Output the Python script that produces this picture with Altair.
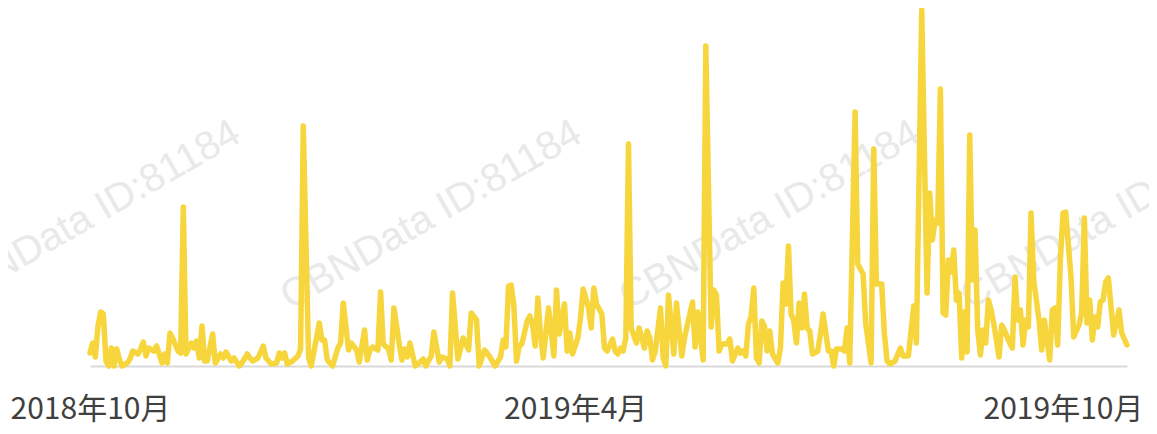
import altair as alt
import pandas as pd

# ---- data (daily series, offsets in days from start) ----
start = "2018-10-01"
end = "2019-10-25"

day_offsets = [
    0, 1, 2, 3, 4, 5, 6, 7, 8, 9, 10, 11, 12, 14, 15, 16, 18, 19, 20, 21, 22, 24, 25, 27, 28, 29, 30, 31, 33, 34,
    35, 36, 38, 39, 40, 41, 42, 43, 44, 46, 47, 49, 50, 51, 53, 54, 56, 57, 59, 60, 61, 63, 65, 66, 68, 70, 71, 72,
    73, 74, 76, 78, 79, 80, 82, 83, 86, 87, 88, 89, 91, 93, 94, 95, 97, 98, 100, 101, 103, 104, 105, 106, 108, 109,
    110, 112, 113, 114, 116, 117, 118, 119, 120, 122, 123, 125, 126, 128, 129, 131, 132, 134, 135, 136, 138, 140,
    142, 143, 145, 146, 148, 150, 152, 154, 155, 156, 157, 158, 159, 160, 161, 162, 164, 165, 166, 167, 168, 169,
    170, 172, 173, 174, 175, 176, 178, 179, 180, 181, 183, 184, 185, 187, 188, 189, 190, 192, 193, 194, 196, 197,
    198, 199, 200, 201, 202, 203, 205, 206, 208, 209, 210, 211, 212, 214, 215, 216, 217, 219, 220, 222, 223, 226,
    227, 228, 230, 231, 233, 234, 235, 236, 237, 239, 240, 241, 243, 244, 245, 246, 247, 248, 249, 250, 251, 252,
    253, 254, 255, 256, 258, 259, 260, 261, 262, 263, 264, 265, 266, 267, 268, 269, 270, 271, 273, 274, 275, 277,
    278, 279, 280, 282, 283, 284, 285, 287, 288, 290, 291, 293, 294, 295, 297, 298, 299, 300, 302, 304, 305, 307,
    309, 310, 312, 314, 315, 316, 317, 318, 319, 320, 321, 322, 323, 324, 325, 326, 327, 328, 329, 330, 331, 332,
    333, 334, 335, 336, 337, 338, 339, 341, 342, 343, 345, 346, 347, 348, 349, 350, 351, 352, 353, 354, 356, 357,
    358, 359, 360, 361, 362, 363, 364, 365, 366, 368, 369, 371, 372, 373, 374, 375, 376, 377, 378, 379, 380, 381,
    382, 384, 386, 387, 389,
]

values = [
    13, 23, 9, 40, 54, 52, 5, 0, 18, 0, 17, 7, 0, 3, 7, 15, 12, 17, 24, 10, 18, 15, 20, 3, 12, 3, 33, 28, 15, 13,
    159, 12, 23, 18, 25, 8, 40, 5, 5, 32, 3, 12, 8, 14, 5, 8, 0, 3, 12, 8, 5, 8, 20, 8, 2, 3, 13, 8,
    13, 2, 5, 10, 17, 240, 8, 0, 43, 26, 26, 6, 0, 18, 23, 63, 16, 23, 16, 4, 36, 6, 16, 19, 16, 74,
    22, 17, 6, 58, 22, 6, 17, 9, 23, 0, 2, 7, 0, 10, 34, 4, 9, 7, 0, 73, 7, 28,
    16, 53, 46, 0, 16, 9, 0, 9, 26, 19, 80, 81, 60, 5, 20, 22, 45, 50, 42, 20, 68, 32,
    8, 58, 35, 10, 76, 32, 62, 15, 33, 12, 28, 48, 77, 58, 38, 78, 62, 52, 18, 15, 27, 15,
    12, 18, 15, 28, 222, 38, 23, 38, 18, 35, 28, 6, 14, 58, 8, 0, 71, 12, 63, 10, 28, 64,
    19, 54, 6, 320, 39, 76, 71, 15, 22, 22, 27, 5, 18, 13, 15, 10, 42, 50, 78, 8, 3, 45,
    40, 15, 35, 12, 3, 18, 83, 62, 120, 52, 45, 23, 63, 38, 72, 38, 35, 12, 15, 32, 52, 15,
    15, 0, 17, 17, 15, 38, 3, 254, 102, 92, 42, 3, 217, 82, 82, 32, 5, 2, 5, 18, 10, 10,
    60, 23, 356, 73, 173, 126, 146, 143, 277, 53, 51, 106, 94, 116, 66, 73, 8, 54, 14, 231, 86, 136,
    36, 11, 36, 23, 66, 56, 43, 9, 41, 36, 23, 18, 89, 46, 56, 21, 46, 39, 153, 86, 46, 16,
    46, 26, 6, 56, 58, 21, 106, 153, 154, 89, 29, 41, 53, 148, 43, 66, 26, 49, 39, 64, 66, 84,
    88, 31, 56, 33, 21,
]

axis_dates = ["2018-10-01", "2019-04-01", "2019-10-01"]

# watermark text (decoration), positioned in data coordinates
wm_text = "CBNData ID:81184"
wm_offsets = [0, 128, 255, 383]
wm_levels = [151, 151, 151, 151]

# ---- build tables ----
base = pd.Timestamp(start)
dates = [(base + pd.Timedelta(days=d)).strftime("%Y-%m-%d") for d in day_offsets]
df = pd.DataFrame({"date": dates, "value": values})

wm_df = pd.DataFrame({
    "date": [(base + pd.Timedelta(days=d)).strftime("%Y-%m-%d") for d in wm_offsets],
    "value": wm_levels,
    "label": [wm_text] * len(wm_offsets),
})


def ms(s):
    return int(pd.Timestamp(s, tz="UTC").timestamp() * 1000)


x_scale = alt.Scale(type="utc", domain=[ms(start), ms(end)], nice=False)
y_scale = alt.Scale(domain=[0, 358], nice=False, zero=True)

x_axis = alt.Axis(
    values=[ms(d) for d in axis_dates],
    labelExpr="utcFormat(datum.value, '%Y年%-m月')",
    title=None,
    grid=False,
    ticks=False,
    tickSize=0,
    labelPadding=28,
    labelFontSize=30,
    labelFont="Noto Sans CJK SC",
    labelColor="#404040",
    labelAlign="center",
    labelFlush=False,
    labelOverlap=False,
    labelBound=False,
    domainColor="#d9d9d9",
    domainWidth=2,
)

watermark = alt.Chart(wm_df).mark_text(
    angle=330,
    fontSize=40,
    font="Liberation Sans",
    color="#e9e9e9",
    align="center",
    baseline="middle",
).encode(
    x=alt.X("date:T", scale=x_scale, axis=x_axis),
    y=alt.Y("value:Q", scale=y_scale, axis=None),
    text="label:N",
)

line = alt.Chart(df).mark_line(
    color="#F6D63C",
    strokeWidth=5.5,
    strokeJoin="round",
    strokeCap="round",
    interpolate="linear",
).encode(
    x=alt.X("date:T", scale=x_scale, axis=x_axis),
    y=alt.Y("value:Q", scale=y_scale, axis=None),
)

chart = alt.layer(watermark, line).properties(
    width=1037,
    height=358,
    autosize=alt.AutoSizeParams(type="none"),
    padding={"left": 82, "top": 0, "right": 22, "bottom": 60},
    background="white",
).configure_view(strokeWidth=0)

chart.save("out.html", embed_options={"renderer": "svg", "actions": False})
